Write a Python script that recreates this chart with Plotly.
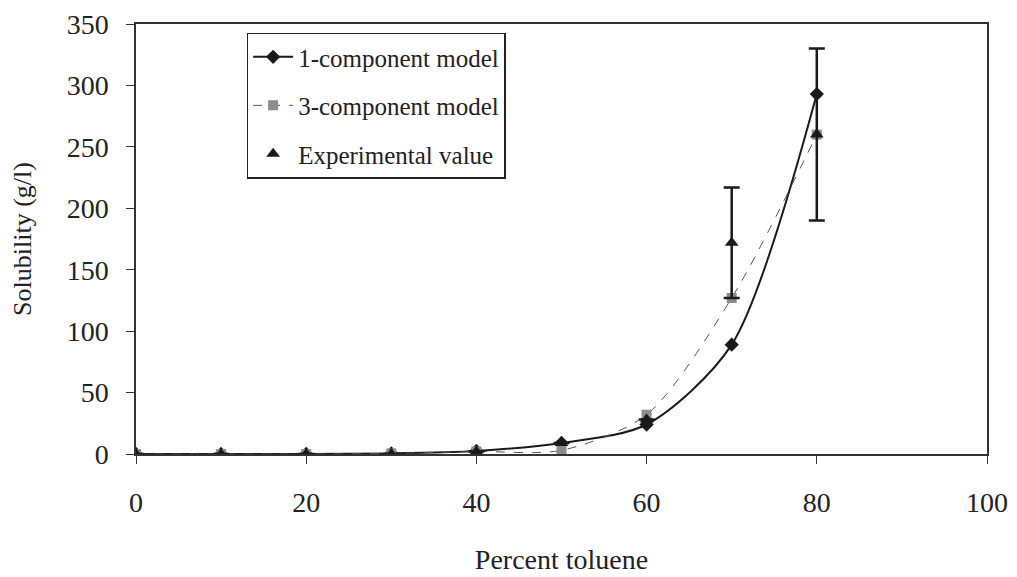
import plotly.graph_objects as go

FAMILY = "Liberation Serif"

toluene = [0, 10, 20, 30, 40, 50, 60, 70, 80]
one_component = [0, 0, 0, 0.5, 2.5, 9, 24, 89, 293]
three_component = [0, 0, 0, 0.5, 2, 3, 32, 127, 260]
experimental = [0, 0, 0, 0, 2, 9, 28, 172, 260]
exp_error = [0, 0, 0, 0, 0, 0, 0, 45, 70]

fig = go.Figure()

# 1-component model: solid black smoothed line with diamonds
fig.add_trace(go.Scatter(
    x=toluene, y=one_component,
    mode="lines+markers",
    name="1-component model",
    legendgroup="a",
    line=dict(color="#1a1a1a", width=2, shape="spline", smoothing=0.8),
    marker=dict(symbol="diamond", size=11, color="#1a1a1a"),
))

# 3-component model: thin gray dashed line with squares
fig.add_trace(go.Scatter(
    x=toluene, y=three_component,
    mode="lines+markers",
    name="3-component model",
    legendgroup="b",
    line=dict(color="#555555", width=1, dash="dash", shape="spline", smoothing=0.8),
    marker=dict(symbol="square", size=10, color="#8c8c8c"),
))

# experimental values with error bars
fig.add_trace(go.Scatter(
    x=toluene, y=experimental,
    mode="markers",
    name="Experimental value",
    legendgroup="c",
    marker=dict(symbol="triangle-up", size=12, color="#1a1a1a"),
    error_y=dict(type="data", array=exp_error, visible=True,
                 color="#1a1a1a", thickness=2.5, width=8),
))

# the page body adds an 8px margin, so the figure is 8px smaller than the window
fig.update_layout(
    width=1009, height=569,
    paper_bgcolor="white",
    plot_bgcolor="white",
    margin=dict(l=128, r=30, t=16, b=123),
    font=dict(family=FAMILY, size=28, color="#222222"),
    showlegend=True,
    legend=dict(
        x=0.13, y=0.98, xanchor="left", yanchor="top",
        bgcolor="white", bordercolor="#222222", borderwidth=1.5,
        font=dict(family=FAMILY, size=25, color="#222222"),
        itemwidth=40, tracegroupgap=13,
    ),
    xaxis=dict(
        range=[0, 100], dtick=20, tick0=0,
        showgrid=False, zeroline=False, automargin=False,
        showline=True, linecolor="#333333", linewidth=1.5, mirror=True,
        ticks="outside", ticklen=8, tickcolor="#333333",
        ticklabelstandoff=15,
        title=dict(text="Percent toluene", font=dict(size=28), standoff=32),
    ),
    yaxis=dict(
        range=[0, 350], dtick=50, tick0=0,
        showgrid=False, zeroline=False, automargin=False,
        showline=True, linecolor="#333333", linewidth=1.5, mirror=True,
        ticks="outside", ticklen=8, tickcolor="#333333",
        ticklabelstandoff=12,
        title=dict(text="Solubility (g/l)", font=dict(size=26), standoff=28),
    ),
)

fig.write_html("out.html")
